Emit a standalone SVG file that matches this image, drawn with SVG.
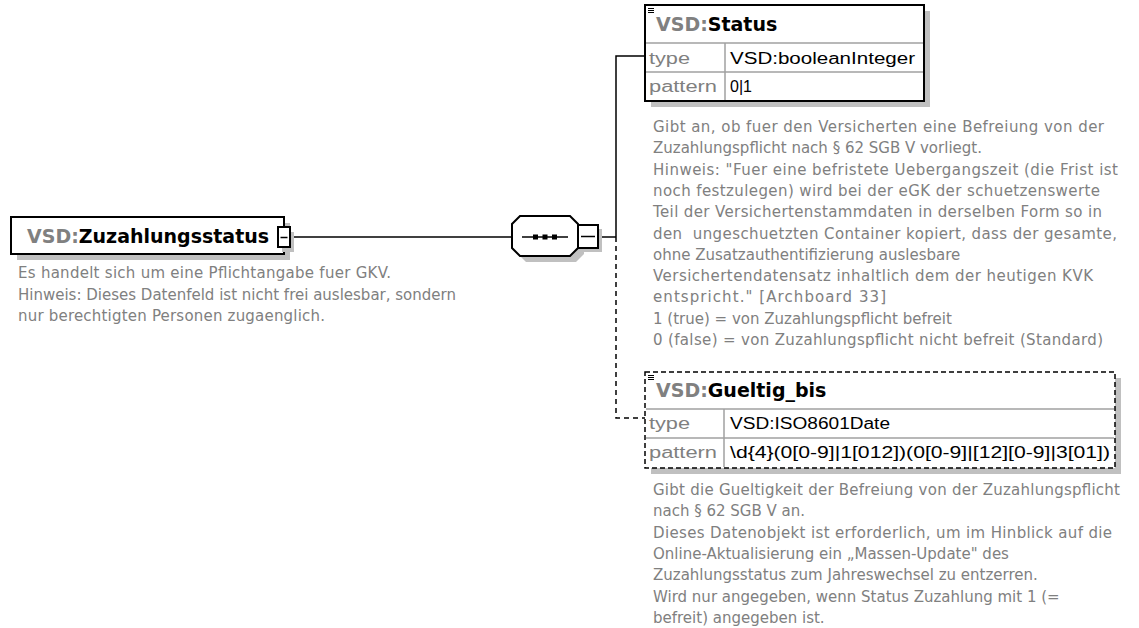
<svg xmlns="http://www.w3.org/2000/svg" width="1139" height="628" viewBox="0 0 1139 628">
<defs>
<style>
.shadow{fill:#c0c0c0;stroke:none}
.box{fill:#fff;stroke:#000;stroke-width:2}
.dbox{fill:#fff;stroke:#000;stroke-width:1.5;stroke-dasharray:5 3}
.sep{stroke:#a0a0a0;stroke-width:1.5}
.conn{stroke:#000;stroke-width:1.5;fill:none}
.dconn{stroke:#000;stroke-width:1.5;fill:none;stroke-dasharray:5 4}
.hdr{font-family:"DejaVu Sans",sans-serif;font-weight:bold;font-size:19px;fill:#000}
.gr{fill:#808080}
.lbl{font-family:"Liberation Sans",Arial,sans-serif;font-size:16px;fill:#808080}
.val{font-family:"Liberation Sans",Arial,sans-serif;font-size:16px;fill:#000}
.desc{font-family:"DejaVu Sans",sans-serif;font-size:15px;fill:#808080}
</style>
</defs>
<g id="connectors">
<line class="conn" x1="290" y1="237" x2="512" y2="237"/>
<line class="conn" x1="598" y1="237" x2="616" y2="237"/>
<polyline class="conn" points="616,237 616,56 645,56"/>
<polyline class="dconn" points="616,237 616,418 645,418"/>
</g>
<g id="root">
<rect class="shadow" x="17" y="223" width="273" height="37"/>
<rect class="box" x="11" y="217" width="273" height="37"/>
<text class="hdr" x="27" y="243"><tspan class="gr">VSD:</tspan>Zuzahlungsstatus</text>
<rect class="shadow" x="282" y="232" width="12" height="20"/>
<rect class="box" x="278" y="227" width="12" height="20"/>
<line x1="280.5" y1="237.5" x2="287.5" y2="237.5" stroke="#000" stroke-width="1.5"/>
<text class="desc" x="18" y="278" textLength="373" lengthAdjust="spacing">Es handelt sich um eine Pflichtangabe fuer GKV.</text>
<text class="desc" x="18" y="299.5">Hinweis: Dieses Datenfeld ist nicht frei auslesbar, sondern</text>
<text class="desc" x="18" y="321" textLength="307" lengthAdjust="spacing">nur berechtigten Personen zugaenglich.</text>
</g>
<g id="sequence">
<polygon class="shadow" points="526,222 576,222 584,230 584,254 576,262 526,262 518,254 518,230"/>
<polygon class="box" points="520,216 570,216 578,224 578,248 570,256 520,256 512,248 512,224"/>
<line x1="522" y1="237" x2="568" y2="237" stroke="#000" stroke-width="1.5"/>
<rect x="533" y="234.5" width="5" height="5" fill="#000"/>
<rect x="542.5" y="234.5" width="5" height="5" fill="#000"/>
<rect x="552" y="234.5" width="5" height="5" fill="#000"/>
<rect class="shadow" x="582" y="229" width="20" height="23"/>
<rect class="box" x="578" y="225" width="20" height="23"/>
<line x1="581" y1="236.5" x2="595" y2="236.5" stroke="#000" stroke-width="1.5"/>
</g>
<g id="status">
<rect class="shadow" x="651" y="11" width="279" height="96"/>
<rect class="box" x="645" y="5" width="279" height="96"/>
<line class="sep" x1="646" y1="43" x2="923" y2="43"/>
<line class="sep" x1="646" y1="72" x2="923" y2="72"/>
<line class="sep" x1="725" y1="43" x2="725" y2="100"/>
<g stroke="#000" stroke-width="1"><line x1="648" y1="8.5" x2="654" y2="8.5"/><line x1="648" y1="10.5" x2="654" y2="10.5"/><line x1="648" y1="12.5" x2="654" y2="12.5"/></g>
<text class="hdr" x="656" y="31"><tspan class="gr">VSD:</tspan>Status</text>
<text class="lbl" x="649" y="64" textLength="41" lengthAdjust="spacingAndGlyphs">type</text>
<text class="val" x="730" y="64" textLength="185" lengthAdjust="spacingAndGlyphs">VSD:booleanInteger</text>
<text class="lbl" x="649" y="92" textLength="68" lengthAdjust="spacingAndGlyphs">pattern</text>
<text class="val" x="730" y="92">0|1</text>
<text class="desc" x="653" y="132" textLength="451" lengthAdjust="spacing">Gibt an, ob fuer den Versicherten eine Befreiung von der</text>
<text class="desc" x="653" y="153.3">Zuzahlungspflicht nach § 62 SGB V vorliegt.</text>
<text class="desc" x="653" y="174.6" textLength="465" lengthAdjust="spacing">Hinweis: "Fuer eine befristete Uebergangszeit (die Frist ist</text>
<text class="desc" x="653" y="195.9" textLength="447" lengthAdjust="spacing">noch festzulegen) wird bei der eGK der schuetzenswerte</text>
<text class="desc" x="653" y="217.2" textLength="449" lengthAdjust="spacing">Teil der Versichertenstammdaten in derselben Form so in</text>
<text class="desc" x="653" y="238.5" textLength="464" lengthAdjust="spacing" xml:space="preserve">den  ungeschuetzten Container kopiert, dass der gesamte,</text>
<text class="desc" x="653" y="259.8">ohne Zusatzauthentifizierung auslesbare</text>
<text class="desc" x="653" y="281.1" textLength="440" lengthAdjust="spacing">Versichertendatensatz inhaltlich dem der heutigen KVK</text>
<text class="desc" x="653" y="302.4" textLength="233" lengthAdjust="spacing">entspricht." [Archboard 33]</text>
<text class="desc" x="653" y="323.7">1 (true) = von Zuzahlungspflicht befreit</text>
<text class="desc" x="653" y="345" textLength="450" lengthAdjust="spacing">0 (false) = von Zuzahlungspflicht nicht befreit (Standard)</text>
</g>
<g id="gueltig_bis">
<rect class="shadow" x="651" y="378" width="470" height="96"/>
<rect class="dbox" x="645" y="372" width="470" height="96"/>
<line class="sep" x1="646" y1="409" x2="1114" y2="409"/>
<line class="sep" x1="646" y1="438" x2="1114" y2="438"/>
<line class="sep" x1="724" y1="409" x2="724" y2="467"/>
<g stroke="#000" stroke-width="1"><line x1="648" y1="375.5" x2="654" y2="375.5"/><line x1="648" y1="377.5" x2="654" y2="377.5"/><line x1="648" y1="379.5" x2="654" y2="379.5"/></g>
<text class="hdr" x="656" y="397"><tspan class="gr">VSD:</tspan>Gueltig_bis</text>
<text class="lbl" x="649" y="429" textLength="41" lengthAdjust="spacingAndGlyphs">type</text>
<text class="val" x="730" y="429" textLength="160" lengthAdjust="spacingAndGlyphs">VSD:ISO8601Date</text>
<text class="lbl" x="649" y="458" textLength="68" lengthAdjust="spacingAndGlyphs">pattern</text>
<text class="val" x="730" y="458" textLength="380" lengthAdjust="spacingAndGlyphs">\d{4}(0[0-9]|1[012])(0[0-9]|[12][0-9]|3[01])</text>
<text class="desc" x="653" y="495" textLength="467" lengthAdjust="spacing">Gibt die Gueltigkeit der Befreiung von der Zuzahlungspflicht</text>
<text class="desc" x="653" y="516.3">nach § 62 SGB V an.</text>
<text class="desc" x="653" y="537.6" textLength="459" lengthAdjust="spacing">Dieses Datenobjekt ist erforderlich, um im Hinblick auf die</text>
<text class="desc" x="653" y="558.9">Online-Aktualisierung ein „Massen-Update" des</text>
<text class="desc" x="653" y="580.2">Zuzahlungsstatus zum Jahreswechsel zu entzerren.</text>
<text class="desc" x="653" y="601.5">Wird nur angegeben, wenn Status Zuzahlung mit 1 (=</text>
<text class="desc" x="653" y="622.8">befreit) angegeben ist.</text>
</g>
</svg>
